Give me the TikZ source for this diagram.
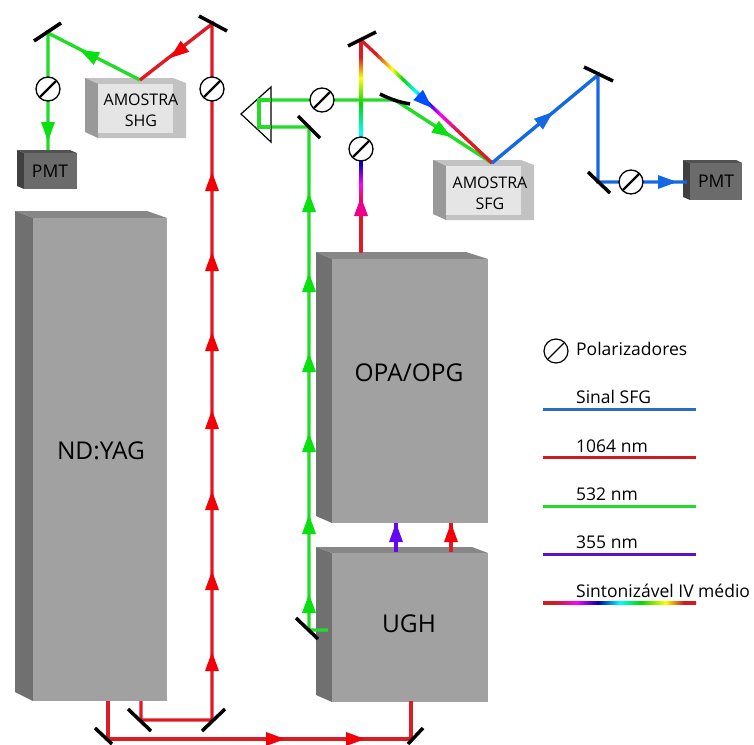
\documentclass[tikz,border=0pt]{standalone}
\usepackage{fontspec}
\setmainfont{Open Sans}
\usepackage{tikz}
\usetikzlibrary{positioning, calc}

\definecolor{beamred}{HTML}{DE1A22}
\definecolor{headred}{HTML}{F40008}
\definecolor{beamgreen}{HTML}{22DC28}
\definecolor{headgreen}{HTML}{08E010}
\definecolor{beamblue}{HTML}{1468E4}
\definecolor{beampurple}{HTML}{6408F0}
\definecolor{legblue}{HTML}{2A6CC4}
\definecolor{legred}{HTML}{CE1C20}
\definecolor{legpurple}{HTML}{6010C4}

\pgfdeclarehorizontalshading{tunableup}{100bp}{
  color(0bp)=(beamred); color(37bp)=(beamred); color(41bp)=(magenta);
  color(46bp)=(blue!80!black); color(53bp)=(cyan); color(60bp)=(green!85!black);
  color(66bp)=(yellow); color(71bp)=(beamred); color(100bp)=(beamred)}
\pgfdeclarehorizontalshading{tunablediag}{100bp}{
  color(0bp)=(beamred); color(31bp)=(beamred); color(37bp)=(yellow);
  color(41bp)=(green!85!black); color(46bp)=(cyan); color(50bp)=(blue!85!black);
  color(55bp)=(magenta); color(63bp)=(beamred); color(100bp)=(beamred)}
\pgfdeclarehorizontalshading{tunableleg}{100bp}{
  color(0bp)=(legred); color(29bp)=(legred); color(36bp)=(magenta);
  color(43bp)=(blue!70!black); color(50bp)=(cyan); color(57bp)=(green!85!black);
  color(65bp)=(yellow); color(71bp)=(legred); color(100bp)=(legred)}

\begin{document}
\begin{tikzpicture}[x=1pt, y=-1pt,
    font=\fontsize{17.5}{20}\selectfont,
    beam/.style={line width=3.4pt},
    mirror/.style={draw=black, line width=3.5pt},
    bigtext/.style={font=\fontsize{24.5}{29}\selectfont},
    smalltext/.style={font=\fontsize{16}{21}\selectfont, align=center, inner sep=0pt},
    legtext/.style={anchor=base west, inner sep=0pt},
    legline/.style={line width=3pt},
    pics/beamhead/.style={code={\fill (0,0) -- (-19,7) -- (-19,-7) -- cycle;}},
    pics/polarizer/.style={code={
        \filldraw[fill=white, draw=black, line width=1.3pt] (0,0) circle (12);
        \draw[black, line width=2.2pt] (-8,8) -- (8,-8);}}]
    \useasboundingbox (0,0) rectangle (754,744);

    % ND:YAG block
    \fill[black!47] (15,211) -- (147,211) -- (167,218) -- (33,218) -- cycle;
    \fill[black!56] (15,211) -- (33,218) -- (33,701) -- (15,692) -- cycle;
    \fill[black!37] (33,218) rectangle (167,701);
    \node[bigtext] (ndyag) at (101,451) {ND:YAG};

    % OPA/OPG block
    \fill[black!47] (316,252) -- (466,252) -- (488,259) -- (332,259) -- cycle;
    \fill[black!56] (316,252) -- (332,259) -- (332,523) -- (316,516) -- cycle;
    \fill[black!37] (332,259) rectangle (488,523);
    \node[bigtext] (opa) at (409,373) {OPA/OPG};

    % UGH block
    \fill[black!47] (316,547) -- (472,547) -- (488,553) -- (332,553) -- cycle;
    \fill[black!56] (316,547) -- (332,553) -- (332,702) -- (316,695) -- cycle;
    \fill[black!37] (332,553) rectangle (488,702);
    \node[bigtext] (ugh) at (409,624) {UGH};

    % Samples
    \fill[black!24] (85,78) -- (173,78) -- (186,83) -- (186,138) -- (98,138) -- cycle;
    \fill[black!40] (85,78) -- (98,84) -- (98,138) -- (85,132) -- cycle;
    \fill[black!10] (98,84) rectangle (173,133);
    \node[smalltext] (shg) at (141,110) {AMOSTRA\\SHG};

    \fill[black!24] (433,160) -- (521,160) -- (534,165) -- (534,220) -- (446,220) -- cycle;
    \fill[black!40] (433,160) -- (446,166) -- (446,220) -- (433,214) -- cycle;
    \fill[black!10] (446,166) rectangle (521,215);
    \node[smalltext] (sfg) at (490,193) {AMOSTRA\\SFG};

    % Detectors
    \fill[black!68] (17,150) -- (70,150) -- (77,153) -- (24,153) -- cycle;
    \fill[black!75] (17,150) -- (24,153) -- (24,189) -- (17,186) -- cycle;
    \fill[black!58] (24,153) rectangle (77,189);
    \node[inner sep=0pt] (pmtshg) at (50,171) {PMT};

    \fill[black!68] (683,160) -- (736,160) -- (742,163) -- (690,163) -- cycle;
    \fill[black!75] (683,160) -- (690,163) -- (690,200) -- (683,197) -- cycle;
    \fill[black!58] (690,163) rectangle (742,200);
    \node[inner sep=0pt] (pmtsfg) at (716,181) {PMT};

    % Hit points on mirrors and samples
    \coordinate (mshg) at (48,33);
    \coordinate (mtop) at (212,24);
    \coordinate (hitshg) at (140,80);
    \coordinate (hitsfg) at (492,163);
    \coordinate (mtun) at (361,40);
    \coordinate (mout) at (598,75);
    \coordinate (mdown) at (598,182);
    \coordinate (mgreen) at (309,127);
    \coordinate (mugh) at (309,630);
    \coordinate (mbs) at (395,100);

    % 532 nm
    \draw[beam, beamgreen] (hitshg) -- (mshg) -- (48,150);
    \pic[headgreen, rotate=-90] at (48,141) {beamhead};
    \pic[headgreen, rotate=153] at (80,50) {beamhead};
    \draw[beam, beamgreen] (328,630) -- (mugh) -- (mgreen) -- (259,127) -- (259,100) -- (mbs) -- (hitsfg);
    \foreach \tip in {193,273,353,433,515,594}
        \pic[headgreen, rotate=90] at (309,\tip) {beamhead};
    \pic[headgreen, rotate=-33] at (451,137) {beamhead};

    % Tunable IR
    \shade[shading=tunableup, shading angle=90] (359.3,40) rectangle (362.7,252);
    \begin{scope}[shift={(mtun)}, rotate=-43.2]
        \shade[shading=tunablediag] (0,-1.7) rectangle (179.7,1.7);
    \end{scope}

    % 1064 nm
    \draw[beam, beamred] (108,701) -- (108,739) -- (411,739) -- (411,701);
    \draw[beam, beamred] (141,701) -- (141,720) -- (212,720) -- (mtop) -- (hitshg);
    \draw[beam, beamred] (451,523) -- (451,552);
    \foreach \tip in {172,252,332,410,491,571,652}
        \pic[headred, rotate=90] at (212,\tip) {beamhead};
    \pic[headred, rotate=0] at (285,739) {beamhead};
    \pic[headred, rotate=0] at (365,739) {beamhead};
    \pic[headred, rotate=90] at (451,523) {beamhead};
    \pic[headred, rotate=-142] at (170,58) {beamhead};

    % 355 nm
    \draw[beam, beampurple] (396,523) -- (396,552);
    \pic[beampurple, rotate=90] at (396,523) {beamhead};

    % Heads on the tunable beam
    \pic[magenta, rotate=90] at (361,197) {beamhead};
    \pic[blue!70!cyan, rotate=-43.2] at (432,108) {beamhead};

    % SFG signal
    \draw[beam, beamblue] (hitsfg) -- (mout) -- (mdown) -- (687,182);
    \pic[beamblue, rotate=40] at (553,112) {beamhead};
    \pic[beamblue, rotate=0] at (677,182) {beamhead};

    % Prism
    \filldraw[fill=white, draw=black, line width=1.2pt] (241,114) -- (271,87) -- (271,142) -- cycle;
    \draw[beam, beamgreen] (271,127) -- (259,127) -- (259,100) -- (271,100);

    % Mirrors
    \draw[mirror] (34,41) -- (61,23);
    \draw[mirror] (199,16) -- (227,31);
    \draw[mirror] (348,46) -- (376,32);
    \draw[mirror] (380,94) to[bend right=8] (410,104);
    \draw[mirror] (298,116) -- (320,138);
    \draw[mirror] (584,67) -- (613,81);
    \draw[mirror] (588,172) -- (610,193);
    \draw[mirror] (296,618) -- (318,639);
    \draw[mirror] (128,709) -- (151,731);
    \draw[mirror] (202,731) -- (225,709);
    \draw[mirror] (95,728) -- (112,744);
    \draw[mirror] (408,744) -- (423,728);

    % Polarizers
    \pic at (48,89) {polarizer};
    \pic at (212,89) {polarizer};
    \pic at (322,100) {polarizer};
    \pic at (361,149) {polarizer};
    \pic at (631,182) {polarizer};

    % Legend
    \draw[black, line width=1.2pt] (556,351) circle (12);
    \draw[black, line width=1.2pt] (548,359) -- (564,343);
    \node[legtext] (legpol) at (576,355) {Polarizadores};
    \node[legtext] (legsfg) at (576,403) {Sinal SFG};
    \draw[legline, legblue] (543,409) -- (696,409);
    \node[legtext] (legir) at (576,452) {1064 nm};
    \draw[legline, legred] (543,457) -- (696,457);
    \node[legtext] (leggreen) at (576,500) {532 nm};
    \draw[legline, beamgreen] (543,506) -- (696,506);
    \node[legtext] (leguv) at (576,548) {355 nm};
    \draw[legline, legpurple] (543,554) -- (696,554);
    \node[legtext] (legtun) at (576,597) {Sintonizável IV médio};
    \shade[shading=tunableleg] (543,601.5) rectangle (696,604.5);
\end{tikzpicture}
\end{document}
